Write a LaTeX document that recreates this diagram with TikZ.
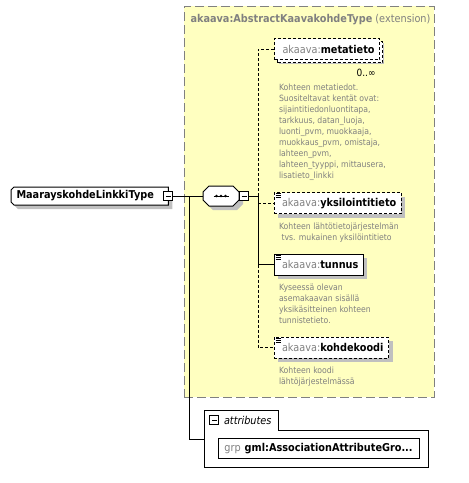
\documentclass[tikz,border=0pt]{standalone}
\usepackage{fontspec}
\setmainfont{DejaVu Sans}[FakeStretch=0.9]
\usetikzlibrary{shadows}

\definecolor{extfill}{RGB}{255,255,192}
\definecolor{extline}{RGB}{128,128,128}
\definecolor{pfxgray}{RGB}{128,128,128}
\definecolor{descgray}{RGB}{128,128,128}
\definecolor{shadowgray}{RGB}{192,192,192}
\newcommand{\pfx}[1]{{\color{pfxgray}#1}}
\newcommand{\namefont}{\fontsize{10.8}{12}\selectfont}
\newcommand{\descfont}{\fontsize{8.6}{11}\selectfont}

\begin{document}
\begin{tikzpicture}[x=1pt,y=-1pt,line width=1pt,font=\namefont,
  box shadow/.style={general shadow={fill=shadowgray,shadow xshift=4pt,shadow yshift=-4pt}},
  elem/.style={draw,fill=white,anchor=west,minimum height=21pt,inner xsep=5pt,inner ysep=0pt,box shadow},
  optelem/.style={elem,dash pattern=on 3pt off 2pt},
  optline/.style={dash pattern=on 3pt off 2pt},
  minusbox/.style={draw,fill=white,minimum size=9pt,inner sep=0pt,
    path picture={\draw[line width=1pt] ([xshift=2pt]path picture bounding box.west) -- ([xshift=-2pt]path picture bounding box.east);}},
  desc/.style={anchor=north west,align=left,inner sep=0pt,text=descgray,font=\descfont},
  icon/.style={line width=0.8pt}]
\useasboundingbox (0,0) rectangle (469,483);

% extension container
\node[draw=extline,fill=extfill,dash pattern=on 9pt off 4pt,anchor=north west,
  minimum width=250pt,minimum height=391pt,inner sep=0pt] (ext) at (183.5,5.5) {};
\node[anchor=west,inner sep=0pt,text=pfxgray] (exttitle) at (190,19.5)
  {\textbf{akaava:AbstractKaavakohdeType} (extension)};

% type and sequence
\node[anchor=west,minimum height=17pt,inner xsep=5pt,inner ysep=0pt] (type) at (11,196)
  {\phantom{\bfseries MaarayskohdeLinkkiType\hspace{9pt}}};
\draw[fill=white,box shadow] ([xshift=3pt]type.north west) -- (type.north east) -- (type.south east)
  -- ([xshift=3pt]type.south west) -- ([yshift=3pt]type.south west) -- ([yshift=-3pt]type.north west) -- cycle;
\node[anchor=west,inner xsep=5pt,inner ysep=0pt] (typename) at (type.west) {\bfseries MaarayskohdeLinkkiType};
\node[minusbox] (typeminus) at (type.east) {};
\node[minimum width=35pt,minimum height=19pt,inner sep=0pt] (seq) at (221,196) {};
\draw[fill=white,box shadow] ([xshift=6pt]seq.north west) -- ([xshift=-6pt]seq.north east)
  -- ([yshift=-6pt]seq.north east) -- ([yshift=6pt]seq.south east) -- ([xshift=-6pt]seq.south east)
  -- ([xshift=6pt]seq.south west) -- ([yshift=6pt]seq.south west) -- ([yshift=-6pt]seq.north west) -- cycle;
\node[minusbox,anchor=west] (seqminus) at (seq.east) {};
\draw ([xshift=-7.5pt]seq.center) -- ([xshift=7.5pt]seq.center);
\foreach \d in {-4.5,0,4.5}
  \fill ([xshift=\d pt]seq.center) circle (1.4pt);
\coordinate (typejoin) at (189,196);
\coordinate (seqjoin) at (258,196);

% elements
\node[optelem,copy shadow={draw,fill=white,line width=1pt,dash pattern=on 3pt off 2pt,
  shadow xshift=3pt,shadow yshift=-3pt}] (meta) at (274,49)
  {\hspace{3pt}\pfx{akaava:}\textbf{metatieto}};
\node[anchor=east,inner sep=0pt,font=\fontsize{10}{12}\selectfont] (metaocc) at (376,72.5) {0..∞};
\node[optelem] (yksi) at (273.5,203.3) {\hspace{3pt}\pfx{akaava:}\textbf{yksilointitieto}};
\node[elem] (tunnus) at (273.5,264.5) {\hspace{3pt}\pfx{akaava:}\textbf{tunnus}};
\node[optelem] (kohde) at (273.5,347.5) {\hspace{3pt}\pfx{akaava:}\textbf{kohdekoodi}};
\foreach \el in {yksi,tunnus,kohde}
  \foreach \k in {1.5,3.5,5.5}
    \draw[icon] ([xshift=2pt,yshift=-\k pt]\el.north west) -- ++(5,0);

% descriptions
\node[desc] (metadesc) at (278.5,83) {Kohteen metatiedot.\\Suositeltavat kentät ovat:\\
  sijaintitiedonluontitapa,\\tarkkuus, datan\_luoja,\\luonti\_pvm, muokkaaja,\\
  muokkaus\_pvm, omistaja,\\lahteen\_pvm,\\lahteen\_tyyppi, mittausera,\\lisatieto\_linkki};
\node[desc] (yksidesc) at (278.5,222) {Kohteen lähtötietojärjestelmän\\\hspace{2.5pt}tvs. mukainen yksilöintitieto};
\node[desc] (tunnusdesc) at (278.5,283) {Kyseessä olevan\\asemakaavan sisällä\\yksikäsitteinen kohteen\\tunnistetieto.};
\node[desc] (kohdedesc) at (278.5,366) {Kohteen koodi\\lähtöjärjestelmässä};

% attributes
\node[anchor=north west,minimum width=73pt,minimum height=19pt,inner sep=0pt] (attrtab) at (204,410) {};
\node[anchor=north west,minimum width=223pt,minimum height=36pt,inner sep=0pt] (attrbox) at (attrtab.south west) {};
\draw (attrbox.south west) -- (attrtab.north west) -- (attrtab.north east) -- (attrtab.south east)
  -- (attrbox.north east) -- (attrbox.south east) -- cycle;
\node[minusbox] (attrminus) at (214.3,420) {};
\node[anchor=west,inner sep=0pt,font=\namefont\itshape] (attrlabel) at (223.5,420) {attributes};
\node[draw,fill=white,minimum width=201pt,minimum height=19.5pt,inner sep=0pt] (grp) at (318.5,448.3)
  {\pfx{grp}\hspace{4pt}\textbf{gml:AssociationAttributeGro...}};

% connectors
\draw (typeminus.east) -- (seq.west);
\draw (typejoin) |- ([yshift=9pt]attrbox.west);
\draw (seqminus.east) -- (seqjoin);
\draw[optline] (seqjoin) -- (seqjoin |- meta.west) -- (meta.west);
\draw[optline] (seqjoin |- yksi.west) -- (yksi.west);
\draw (seqjoin) -- (seqjoin |- tunnus.west) -- (tunnus.west);
\draw[optline] (seqjoin |- tunnus.west) -- (seqjoin |- kohde.west) -- (kohde.west);
\end{tikzpicture}
\end{document}
